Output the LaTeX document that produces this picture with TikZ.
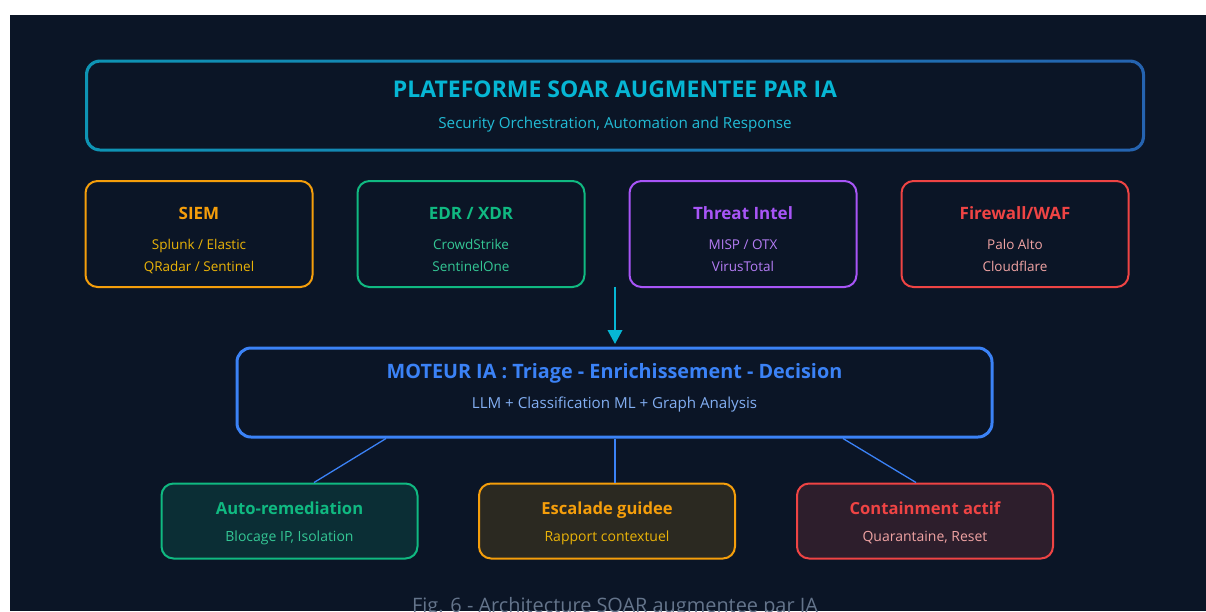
\documentclass[tikz,border=0pt]{standalone}
\usepackage{fontspec}
\setmainfont{Open Sans}
\usetikzlibrary{arrows.meta,calc}

\definecolor{bg}{HTML}{0B1526}
\definecolor{topL}{HTML}{0E94B4}
\definecolor{topR}{HTML}{2563B0}
\definecolor{cyanT}{HTML}{06B6D4}
\definecolor{cyanS}{HTML}{22BCD6}
\definecolor{siemC}{HTML}{F59E0B}
\definecolor{siemS}{HTML}{EAB308}
\definecolor{edrC}{HTML}{10B981}
\definecolor{edrS}{HTML}{34C795}
\definecolor{tiC}{HTML}{A855F7}
\definecolor{tiS}{HTML}{B47CF4}
\definecolor{fwC}{HTML}{EF4444}
\definecolor{fwS}{HTML}{F0A3A3}
\definecolor{motC}{HTML}{3B82F6}
\definecolor{motS}{HTML}{82AEF2}
\definecolor{autoF}{HTML}{0B2E35}
\definecolor{escF}{HTML}{2B2921}
\definecolor{contF}{HTML}{2D1E2C}
\definecolor{capC}{HTML}{64748B}

\tikzset{
  card/.style={draw, rounded corners=12pt, line width=2pt, inner sep=0pt,
    minimum width=227pt, minimum height=106pt},
  outcard/.style={draw, rounded corners=12pt, line width=2pt, inner sep=0pt,
    minimum width=256pt, minimum height=75pt},
  ttl/.style={font=\fontsize{17}{20}\selectfont\bfseries, anchor=base, inner sep=0pt},
  outttl/.style={font=\fontsize{16.6}{20}\selectfont\bfseries, anchor=base, inner sep=0pt},
  sub/.style={font=\fontsize{13.5}{16}\selectfont, anchor=base, inner sep=0pt},
  outsub/.style={font=\fontsize{14}{17}\selectfont, anchor=base, inner sep=0pt},
  link/.style={draw=motC, line width=1.3pt},
}

\begin{document}
\begin{tikzpicture}[x=1pt,y=-1pt]
\useasboundingbox (0,0) rectangle (1206,611);
\fill[white] (0,0) rectangle (1206,611);
\fill[bg] (10,15) rectangle (1206,611);

% platform banner with a left-to-right gradient frame
\node[inner sep=0pt, minimum width=1057pt, minimum height=89pt] (soar) at (615,105.5) {};
\shade[left color=topL, right color=topR, even odd rule]
  [rounded corners=15pt] (85,59.5) rectangle (1145,151.5)
  [rounded corners=12pt] (88,62.5) rectangle (1142,148.5);
\node[font=\fontsize{23}{27}\selectfont\bfseries, text=cyanT, anchor=base, inner sep=0pt]
  (soarT) at (615,97.7) {PLATEFORME SOAR AUGMENTEE PAR IA};
\node[font=\fontsize{15.2}{18}\selectfont, text=cyanS, anchor=base, inner sep=0pt]
  (soarS) at (615,128.3) {Security Orchestration, Automation and Response};

% data sources
\node[card, draw=siemC] (siem) at (199,234) {};
\node[ttl, text=siemC] (siemT) at (199,219.3) {SIEM};
\node[sub, text=siemS] (siemA) at (199,249.3) {Splunk / Elastic};
\node[sub, text=siemS] (siemB) at (199,271.7) {QRadar / Sentinel};

\node[card, draw=edrC] (edr) at (471,234) {};
\node[ttl, text=edrC] (edrT) at (471,219.3) {EDR / XDR};
\node[sub, text=edrS] (edrA) at (471,249.3) {CrowdStrike};
\node[sub, text=edrS] (edrB) at (471,271.7) {SentinelOne};

\node[card, draw=tiC] (ti) at (743,234) {};
\node[ttl, text=tiC] (tiT) at (743,219.3) {Threat Intel};
\node[sub, text=tiS] (tiA) at (743,249.3) {MISP / OTX};
\node[sub, text=tiS] (tiB) at (743,271.7) {VirusTotal};

\node[card, draw=fwC] (fw) at (1015,234) {};
\node[ttl, text=fwC] (fwT) at (1015,219.3) {Firewall/WAF};
\node[sub, text=fwS] (fwA) at (1015,249.3) {Palo Alto};
\node[sub, text=fwS] (fwB) at (1015,271.7) {Cloudflare};

% AI engine
\node[draw=motC, line width=3pt, rounded corners=14pt, inner sep=0pt,
  minimum width=755pt, minimum height=89pt] (moteur) at (614.5,392.5) {};
\node[font=\fontsize{19.8}{24}\selectfont\bfseries, text=motC, anchor=base, inner sep=0pt]
  (moteurT) at (614.5,378.3) {MOTEUR IA : Triage - Enrichissement - Decision};
\node[font=\fontsize{15.15}{18}\selectfont, text=motS, anchor=base, inner sep=0pt]
  (moteurS) at (614.5,408.3) {LLM + Classification ML + Graph Analysis};

% feed arrow into the engine
\coordinate (feed) at (615,286.7);
\draw[draw=cyanT, line width=2pt, shorten >=2.5pt,
  -{Triangle[length=14pt,width=14.5pt]}] (feed) -- (feed |- moteur.north);

% response actions
\node[outcard, draw=edrC, fill=autoF] (auto) at (289.5,521) {};
\node[outttl, text=edrC] (autoT) at (289.5,514.3) {Auto-remediation};
\node[outsub, text=edrS] (autoS) at (289.5,541) {Blocage IP, Isolation};

\node[outcard, draw=siemC, fill=escF] (esc) at (607,521) {};
\node[outttl, text=siemC] (escT) at (607,514.3) {Escalade guidee};
\node[outsub, text=siemS] (escS) at (607,541) {Rapport contextuel};

\node[outcard, draw=fwC, fill=contF] (cont) at (925,521) {};
\node[outttl, text=fwC] (contT) at (925,514.3) {Containment actif};
\node[outsub, text=fwS] (contS) at (925,541) {Quarantaine, Reset};

\draw[link] ($(moteur.south)+(-228.5,0)$) -- ($(auto.north)+(24.5,0)$);
\draw[link] ($(moteur.south)+(0.5,0)$) -- ($(moteur.south |- esc.north)+(0.5,0)$);
\draw[link] ($(moteur.south)+(228.5,0)$) -- ($(cont.north)+(-9,0)$);

% caption
\node[font=\fontsize{19.9}{23}\selectfont, text=capC, anchor=base, inner sep=0pt]
  (caption) at (615,612) {Fig. 6 - Architecture SOAR augmentee par IA};
\end{tikzpicture}
\end{document}
